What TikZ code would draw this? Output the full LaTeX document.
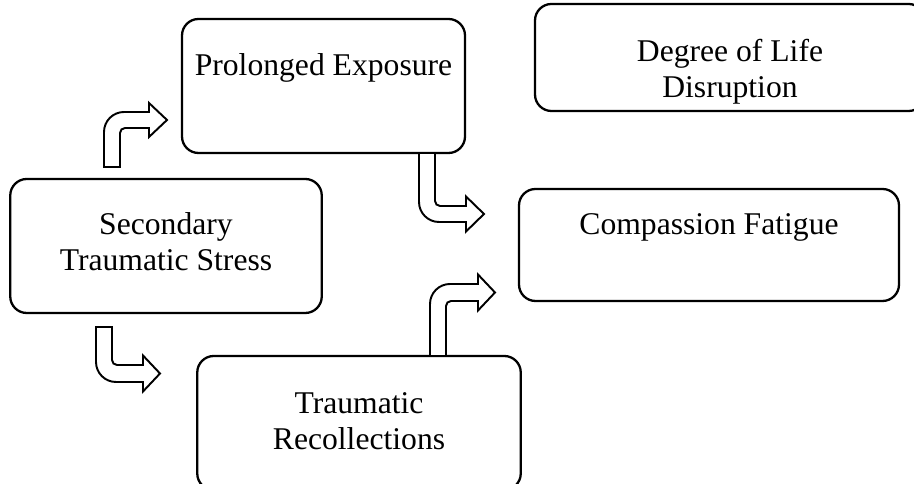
\documentclass[tikz,border=0pt]{standalone}
\usepackage{fontspec}
\setmainfont{Liberation Serif}
\begin{document}
\begin{tikzpicture}[
  stnode/.style={rectangle, rounded corners=0.33cm, draw=black, line width=1.3pt, fill=white, align=center, inner sep=2pt, font={\fontsize{18pt}{20.5pt}\selectfont}},
  stbend/.style={draw=black, fill=white, line width=1.1pt, line join=miter}
]
\clip (0,0) rectangle (18.28,9.68);
% boxes
\node[stnode, minimum width=5.66cm, minimum height=2.68cm, text height=0.5cm, text depth=0.91cm] (pe) at (6.47,7.96) {Prolonged Exposure};
\node[stnode, minimum width=7.80cm, minimum height=2.02cm, text height=1.80cm, text depth=0.2cm] (dld) at (14.60,8.53) {Degree of Life\\Disruption};
\node[stnode, minimum width=6.23cm, minimum height=2.68cm, text height=1.20cm, text depth=0.2cm] (sts) at (3.32,4.76) {Secondary\\Traumatic Stress};
\node[stnode, minimum width=7.60cm, minimum height=2.24cm, text height=0.5cm, text depth=0.91cm] (cf) at (14.18,4.78) {Compassion Fatigue};
\node[stnode, minimum width=6.47cm, minimum height=2.68cm, text height=1.28cm, text depth=0.2cm] (tr) at (7.18,1.22) {Traumatic\\Recollections};
% bent arrows
\coordinate (a1) at (2.08,6.34);
\coordinate (a2) at (8.38,6.62);
\coordinate (a3) at (1.92,3.14);
\coordinate (a4) at (8.60,2.56);
\draw[stbend] (a1) -- ++(0,0.70) arc[start angle=180, end angle=90, radius=0.40] -- ++(0.50,0) -- ++(0,0.18) -- ++(0.36,-0.34) -- ++(-0.36,-0.34) -- ++(0,0.18) -- ++(-0.48,0) arc[start angle=90, end angle=180, radius=0.10] -- ++(0,-0.68) -- cycle;
\draw[stbend] (a2) -- ++(0,-0.98) arc[start angle=180, end angle=270, radius=0.40] -- ++(0.54,0) -- ++(0,-0.19) -- ++(0.36,0.35) -- ++(-0.36,0.35) -- ++(0,-0.19) -- ++(-0.52,0) arc[start angle=270, end angle=180, radius=0.10] -- ++(0,0.96) -- cycle;
\draw[stbend] (a3) -- ++(0,-0.70) arc[start angle=180, end angle=270, radius=0.40] -- ++(0.54,0) -- ++(0,-0.19) -- ++(0.34,0.36) -- ++(-0.34,0.36) -- ++(0,-0.19) -- ++(-0.52,0) arc[start angle=270, end angle=180, radius=0.10] -- ++(0,0.66) -- cycle;
\draw[stbend] (a4) -- ++(0,1.04) arc[start angle=180, end angle=90, radius=0.40] -- ++(0.56,0) -- ++(0,0.19) -- ++(0.34,-0.36) -- ++(-0.34,-0.36) -- ++(0,0.19) -- ++(-0.54,0) arc[start angle=90, end angle=180, radius=0.10] -- ++(0,-1.00) -- cycle;
\end{tikzpicture}
\end{document}
